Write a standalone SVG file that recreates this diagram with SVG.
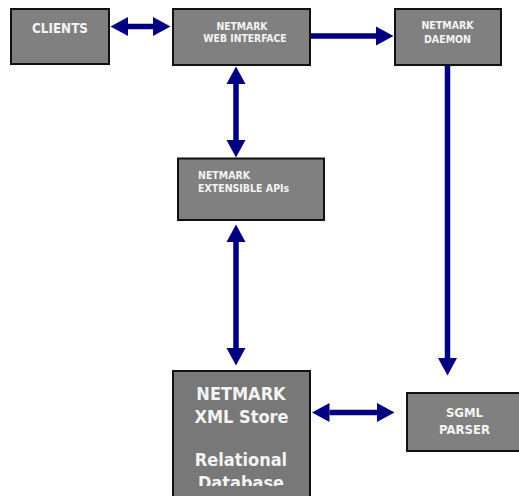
<svg xmlns="http://www.w3.org/2000/svg" width="519" height="496" viewBox="0 0 519 496">
<style>
.box{fill:#808080;stroke:#111;stroke-width:2}
.t{fill:#f4f4f4;font-family:"DejaVu Sans Condensed","DejaVu Sans",Verdana,sans-serif;font-weight:bold}
.c{stroke:#000080;stroke-width:5.5;fill:none}
</style>
<defs>
<marker id="ah" markerUnits="userSpaceOnUse" markerWidth="18" markerHeight="20" refX="0" refY="9.5" orient="auto-start-reverse" viewBox="0 0 18 19">
<path d="M0,0 L17.5,9.5 L0,19 Z" fill="#000080"/>
</marker>
<clipPath id="xmlclip"><rect x="172" y="370" width="139" height="116"/></clipPath>
</defs>
<g id="connectors">
<line class="c" x1="128" y1="26.5" x2="153" y2="26.5" marker-start="url(#ah)" marker-end="url(#ah)"/>
<line class="c" x1="310" y1="36" x2="376" y2="36" marker-end="url(#ah)"/>
<line class="c" x1="236" y1="84" x2="236" y2="140" marker-start="url(#ah)" marker-end="url(#ah)"/>
<line class="c" x1="236" y1="242" x2="236" y2="348" marker-start="url(#ah)" marker-end="url(#ah)"/>
<line class="c" x1="447.5" y1="65" x2="447.5" y2="358" marker-end="url(#ah)"/>
<line class="c" x1="329.5" y1="412.5" x2="377" y2="412.5" marker-start="url(#ah)" marker-end="url(#ah)"/>
</g>
<g id="clients">
<rect class="box" x="11" y="9" width="98" height="55"/>
<text class="t" x="60" y="33" font-size="13.3" text-anchor="middle">CLIENTS</text>
</g>
<g id="web-interface">
<rect class="box" x="173" y="9" width="137" height="56"/>
<text class="t" font-size="10.3" text-anchor="middle"><tspan x="242" y="30">NETMARK</tspan><tspan x="245" y="42">WEB INTERFACE</tspan></text>
</g>
<g id="daemon">
<rect class="box" x="395" y="9" width="106" height="56"/>
<text class="t" font-size="10.5" text-anchor="middle"><tspan x="447.5" y="28.5">NETMARK</tspan><tspan x="447.5" y="42.5">DAEMON</tspan></text>
</g>
<g id="extensible-apis">
<rect class="box" x="178" y="158.5" width="146" height="61.5"/>
<text class="t" font-size="10.5"><tspan x="198" y="178.5">NETMARK</tspan><tspan x="198" y="192">EXTENSIBLE APIs</tspan></text>
</g>
<g id="xml-store">
<rect class="box" x="173" y="371" width="137" height="130" style="fill:#787878"/>
<text class="t" font-size="18" text-anchor="middle" clip-path="url(#xmlclip)"><tspan x="241" y="400">NETMARK</tspan><tspan x="241.5" y="422.5">XML Store</tspan><tspan x="241" y="466">Relational</tspan><tspan x="241" y="488.5">Database</tspan></text>
</g>
<g id="sgml-parser">
<rect class="box" x="407" y="393" width="116" height="58"/>
<text class="t" font-size="13" text-anchor="middle"><tspan x="464.5" y="416.5">SGML</tspan><tspan x="464.5" y="433.5">PARSER</tspan></text>
</g>
</svg>
